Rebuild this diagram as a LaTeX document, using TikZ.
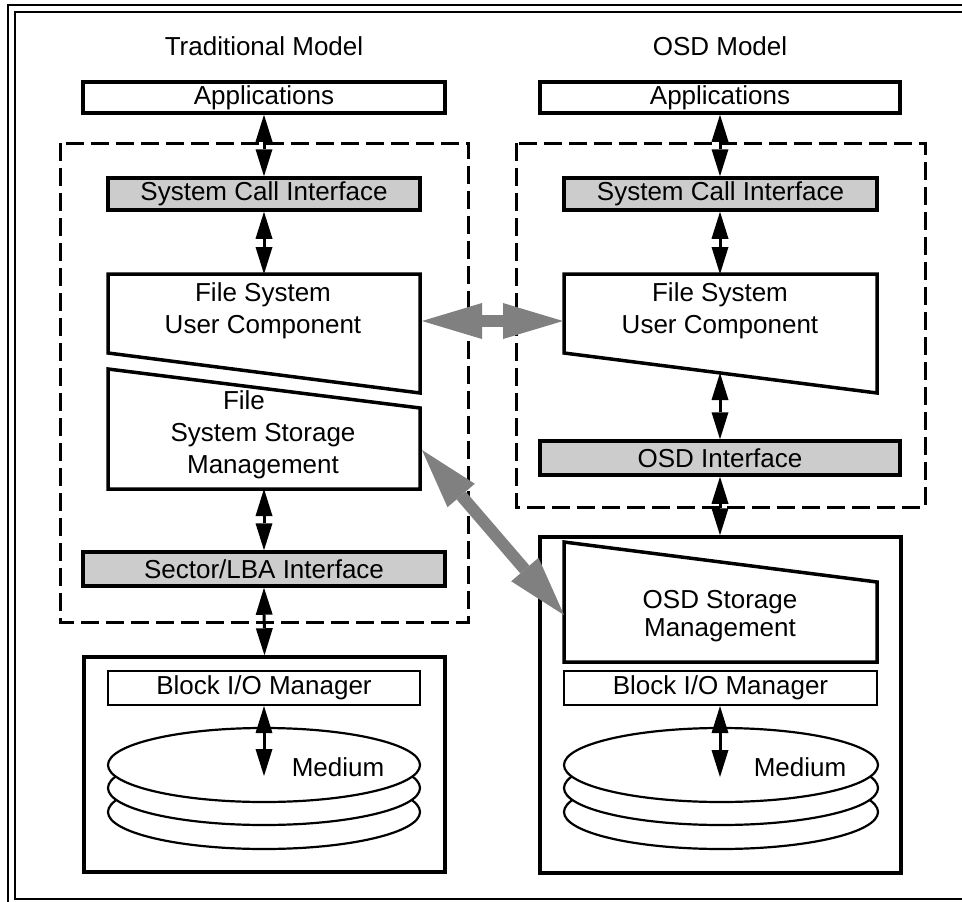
\documentclass[tikz,border=0pt]{standalone}
\usepackage{fontspec}
\setmainfont{Liberation Sans}
\usetikzlibrary{arrows.meta}
\definecolor{boxgray}{RGB}{204,204,204}
\definecolor{arrgray}{RGB}{128,128,128}
\begin{document}
\begin{tikzpicture}[x=1pt,y=-1pt,
  txt/.style={inner sep=0pt, align=center, font=\fontsize{26}{32}\selectfont},
  thickbox/.style={draw, line width=3.5pt, inner sep=0pt, fill=white, font=\fontsize{26}{32}\selectfont},
  graybox/.style={thickbox, fill=boxgray},
  thinbox/.style={draw, line width=2.2pt, inner sep=0pt, fill=white, font=\fontsize{26}{32}\selectfont},
  trap/.style={draw, line width=3.5pt, fill=white, line join=miter},
  dashbox/.style={draw, line width=3pt, dash pattern=on 18pt off 7pt},
  frame/.style={draw, line width=2pt},
  disk/.style={draw, line width=2.2pt, fill=white},
  biarrow/.style={line width=3pt, {Triangle[length=27pt,width=17pt,line width=0pt]}-{Triangle[length=27pt,width=17pt,line width=0pt]}},
  grayarrow/.style={draw=arrgray, line width=12pt, {Triangle[length=60pt,width=36pt,line width=0pt]}-{Triangle[length=60pt,width=36pt,line width=0pt]}}
]
\useasboundingbox (0,0) rectangle (962,902);
\clip (0,0) rectangle (962,902);

% outer frame
\draw[frame] (8,5) rectangle (975,908);
\draw[frame] (15,12) rectangle (968,899);

% titles
\node[txt] (t1) at (264,46) {Traditional Model};
\node[txt] (t2) at (720,46) {OSD Model};

% dashed regions
\draw[dashbox] (60,143) rectangle (468,622);
\draw[dashbox] (516,143) rectangle (925,507);

% ---------- Traditional model ----------
\node[thickbox, minimum width=362pt, minimum height=31pt] (app1) at (264,97.5) {Applications};
\node[graybox, minimum width=312pt, minimum height=32pt] (sci1) at (264,194) {System Call Interface};
\draw[trap] (108,274) -- (420,274) -- (420,393) -- (108,353) -- cycle;
\node[txt] (fsuc1) at (263,311) {File System\\User Component};
\draw[trap] (108,369) -- (420,408) -- (420,489) -- (108,489) -- cycle;
\node[txt] (fssm) at (263,435) {File\rule{38pt}{0pt}\\System Storage\\Management};
\coordinate (fsuc1top) at (264,274);
\coordinate (fssmbot) at (264,489);
\node[graybox, minimum width=362pt, minimum height=34pt] (lba) at (264,569) {Sector/LBA Interface};
\node[thickbox, minimum width=361pt, minimum height=215pt] (blk1) at (264.5,764.5) {};
\node[thinbox, minimum width=312pt, minimum height=34pt] (bio1) at (264,688) {Block I/O Manager};
\draw[disk] (264,812) ellipse [x radius=156pt, y radius=37pt];
\draw[disk] (264,788) ellipse [x radius=156pt, y radius=37pt];
\draw[disk] (264,765) ellipse [x radius=156pt, y radius=37pt];
\node[txt] (med1) at (338,767) {Medium};
\coordinate (m1end) at (264,776);

% ---------- OSD model ----------
\node[thickbox, minimum width=360pt, minimum height=31pt] (app2) at (720,97.5) {Applications};
\node[graybox, minimum width=313pt, minimum height=32pt] (sci2) at (720.5,194) {System Call Interface};
\draw[trap] (564,274) -- (877,274) -- (877,393) -- (564,353) -- cycle;
\node[txt] (fsuc2) at (720,311) {File System\\User Component};
\coordinate (fsuc2top) at (720.5,274);
\coordinate (fsuc2bot) at (720,373);
\node[graybox, minimum width=360pt, minimum height=34pt] (osdi) at (720,458) {OSD Interface};
\node[thickbox, minimum width=361pt, minimum height=336pt] (blk2) at (720.5,705) {};
\draw[trap] (564,542) -- (877,582) -- (877,662) -- (564,662) -- cycle;
\node[txt, font=\fontsize{26}{28}\selectfont] (osdsm) at (720,616) {OSD Storage\\Management};
\node[thinbox, minimum width=313pt, minimum height=34pt] (bio2) at (720.5,688) {Block I/O Manager};
\draw[disk] (721,812) ellipse [x radius=157pt, y radius=37pt];
\draw[disk] (721,788) ellipse [x radius=157pt, y radius=37pt];
\draw[disk] (721,765) ellipse [x radius=157pt, y radius=37pt];
\node[txt] (med2) at (800,767) {Medium};
\coordinate (m2end) at (720,777);

% ---------- black double arrows ----------
\draw[biarrow] (app1.south) -- (sci1.north);
\draw[biarrow] (sci1.south) -- (fsuc1top);
\draw[biarrow] (fssmbot) -- (lba.north);
\draw[biarrow] (lba.south) -- (blk1.north);
\draw[biarrow] (bio1.south) -- (m1end);
\draw[biarrow] (app2.south) -- (sci2.north -| app2.south);
\draw[biarrow] (sci2.south -| app2.south) -- (fsuc2top -| app2.south);
\draw[biarrow] (fsuc2bot) -- (osdi.north);
\draw[biarrow] (osdi.south) -- (blk2.north -| osdi.south);
\draw[biarrow] (bio2.south -| m2end) -- (m2end);

% ---------- gray double arrows ----------
\coordinate (g1a) at (422,321);
\coordinate (g1b) at (563,321);
\coordinate (g2a) at (422,450);
\coordinate (g2b) at (564,615);
\draw[grayarrow] (g1a) -- (g1b);
\draw[grayarrow] (g2a) -- (g2b);
\end{tikzpicture}
\end{document}
